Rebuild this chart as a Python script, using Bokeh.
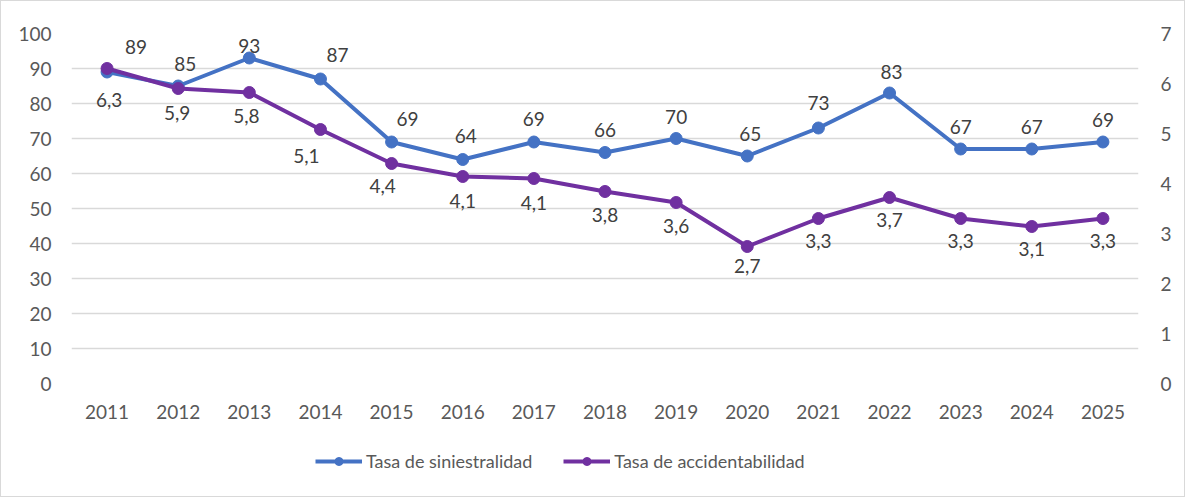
from bokeh.plotting import figure
from bokeh.layouts import column
from bokeh.models import Range1d, FactorRange, LinearAxis, Legend, LegendItem, ColumnDataSource, FixedTicker
from bokeh.core.properties import value
from bokeh.embed import file_html
from bokeh.resources import INLINE

years = ["2011", "2012", "2013", "2014", "2015", "2016", "2017", "2018",
         "2019", "2020", "2021", "2022", "2023", "2024", "2025"]
siniestralidad = [89, 85, 93, 87, 69, 64, 69, 66, 70, 65, 73, 83, 67, 67, 69]
accidentabilidad = [6.3, 5.9, 5.82, 5.08, 4.4, 4.14, 4.1, 3.84, 3.62, 2.74, 3.3, 3.72, 3.3, 3.14, 3.3]
left_ticks = [0, 10, 20, 30, 40, 50, 60, 70, 80, 90, 100]
right_ticks = [0, 1, 2, 3, 4, 5, 6, 7]
name_s = "Tasa de siniestralidad"
name_a = "Tasa de accidentabilidad"

BLUE = "#4472C4"
PURPLE = "#7030A0"
FONT = "Lato"
FS = "19px"

s_dx = [29, 7, 0, 17, 16, 3, 0, 0, 0, 3, 0, 2, 0, 0, 0]
s_dy = [-25, -22, -12, -24, -23, -24, -23, -23, -22, -22, -25, -21, -22, -22, -22]
a_dx = [2, -1, -3, -14, -9, 0, 0, 0, 0, 0, 0, 0, 0, 0, 0]
a_dy = [31, 24, 23, 26, 22, 24, 24, 23, 23, 19, 22, 22, 22, 22, 22]

src_s = ColumnDataSource(dict(x=years, y=siniestralidad,
                              lab=[str(v) for v in siniestralidad], dx=s_dx, dy=s_dy))
src_a = ColumnDataSource(dict(x=years, y=accidentabilidad,
                              lab=[f"{v:.1f}".replace(".", ",") for v in accidentabilidad],
                              dx=a_dx, dy=a_dy))

p = figure(width=1183, height=424, x_range=FactorRange(*years, range_padding=0),
           y_range=Range1d(0, 100), output_backend="svg", toolbar_location=None,
           min_border_left=70, min_border_right=46, min_border_top=32, min_border_bottom=42)
p.extra_y_ranges = {"right": Range1d(0, 7)}

p.outline_line_color = None
p.border_fill_color = "white"
p.background_fill_color = "white"

p.xgrid.grid_line_color = None
p.ygrid.grid_line_color = "#d9d9d9"
p.ygrid.grid_line_width = 1.5
p.yaxis.ticker = FixedTicker(ticks=left_ticks)

for ax in [p.xaxis[0], p.yaxis[0]]:
    ax.axis_line_color = None
    ax.major_tick_line_color = None
    ax.minor_tick_line_color = None
    ax.major_label_text_font = FONT
    ax.major_label_text_font_size = FS
    ax.major_label_text_color = "#595959"
p.xaxis.major_label_standoff = 15
p.yaxis.major_label_standoff = 14

raxis = LinearAxis(y_range_name="right", ticker=FixedTicker(ticks=right_ticks))
raxis.axis_line_color = None
raxis.major_tick_line_color = None
raxis.minor_tick_line_color = None
raxis.major_label_text_font = FONT
raxis.major_label_text_font_size = FS
raxis.major_label_text_color = "#595959"
raxis.major_label_standoff = 16
p.add_layout(raxis, "right")

p.line("x", "y", source=src_s, line_color=BLUE, line_width=4)
p.scatter("x", "y", source=src_s, size=12, fill_color=BLUE, line_color=BLUE)
p.line("x", "y", source=src_a, line_color=PURPLE, line_width=4, y_range_name="right")
p.scatter("x", "y", source=src_a, size=12, fill_color=PURPLE, line_color=PURPLE,
          y_range_name="right")

p.text("x", "y", text="lab", source=src_s, x_offset="dx", y_offset="dy",
       text_font=value(FONT), text_font_size=FS, text_color="#404040",
       text_align="center", text_baseline="middle")
p.text("x", "y", text="lab", source=src_a, x_offset="dx", y_offset="dy",
       text_font=value(FONT), text_font_size=FS, text_color="#404040",
       text_align="center", text_baseline="middle", y_range_name="right")

# legend strip (dummy renderers kept outside the visible range)
q = figure(width=1183, height=71, x_range=Range1d(0, 1), y_range=Range1d(0, 1),
           output_backend="svg", toolbar_location=None, x_axis_type=None, y_axis_type=None,
           min_border_left=0, min_border_right=0, min_border_top=0, min_border_bottom=0)
q.outline_line_color = None
q.grid.visible = False
q.border_fill_color = "white"
q.background_fill_color = "white"
dummy = ColumnDataSource(dict(x=[-10, -11], y=[-10, -11]))
l1 = q.line("x", "y", source=dummy, line_color=BLUE, line_width=4)
m1 = q.scatter("x", "y", source=dummy, size=12, fill_color=BLUE, line_color=BLUE)
l2 = q.line("x", "y", source=dummy, line_color=PURPLE, line_width=4)
m2 = q.scatter("x", "y", source=dummy, size=12, fill_color=PURPLE, line_color=PURPLE)
legend = Legend(items=[LegendItem(label=name_s, renderers=[l1, m1]),
                       LegendItem(label=name_a, renderers=[l2, m2])],
                orientation="horizontal", location=(244, 24),
                border_line_color=None, background_fill_alpha=0,
                label_text_font=FONT, label_text_font_size="18px",
                label_text_color="#595959", glyph_width=47, spacing=31,
                label_standoff=4, padding=0, margin=0)
q.add_layout(legend, "center")

layout = column(p, q, spacing=0)
layout.styles = {"border": "1px solid #d9d9d9", "background": "white"}

open("out.html", "w").write(file_html(layout, INLINE))
